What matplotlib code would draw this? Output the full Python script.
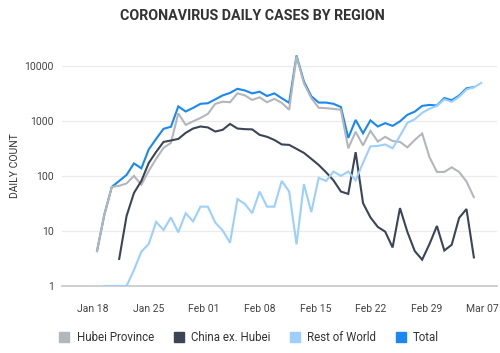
import matplotlib
matplotlib.use("Agg")
import matplotlib.pyplot as plt
from matplotlib.lines import Line2D
from matplotlib.ticker import FixedLocator, NullLocator
import numpy as np

plt.rcParams['font.family'] = ['Roboto', 'DejaVu Sans']

# ---- data (one value per reporting step) ----
hubei = [4.3, 20, 63, 66, 73, 100, 69, 123, 204, 323, 398, 1370, 846, 980, 1130, 1340,
         2040, 2230, 2180, 3160, 2910, 2400, 2680, 2180, 2510, 2130, 1590, 14900, 4800,
         2600, 1730, 1700, 1650, 1590, 317, 633, 358, 660, 420, 513, 430, 415, 330, 450,
         590, 218, 118, 118, 143, 118, 79, 41]
china_ex_hubei = [None, None, None, 3.1, 18.7, 49, 81, 172, 273, 414, 440, 470, 605, 726,
                  790, 760, 640, 687, 880, 726, 707, 700, 557, 514, 450, 373, 366, 310,
                  262, 204, 158, 116, 83, 52, 47, 270, 32, 17.6, 11.8, 9.7, 5.0, 26, 9.6,
                  4.3, 3.0, 5.8, 12.3, 4.4, 5.6, 17.2, 25, 3.3]
rest_of_world = [None, 1, 1, 1, 1, 1.95, 4.2, 5.8, 14.6, 10.4, 17.6, 9.4, 21, 14.9, 27.6,
                 27.6, 14.2, 10.2, 6.1, 38, 31, 21, 52, 27.6, 27.6, 81, 52, 5.7, 71, 22,
                 92, 81, 120, 100, 120, 83, 173, 344, 350, 373, 317, 535, 920, 1070, 1400,
                 1660, 1870, 2460, 2220, 2740, 3720, 4060, 4900]
total = [4.3, 20, 63, 81, 104, 169, 137, 303, 470, 718, 780, 1830, 1480, 1720, 2040, 2090,
         2460, 2900, 3220, 3830, 3570, 3160, 3390, 2830, 3160, 2580, 2130, 15400, 5200,
         2800, 2150, 2150, 2040, 1790, 490, 1040, 595, 1020, 790, 910, 810, 980, 1290,
         1470, 1870, 1950, 1900, 2600, 2370, 2880, 3900, 4110]
x_labels = ["Jan 18", "Jan 25", "Feb 01", "Feb 08", "Feb 15", "Feb 22", "Feb 29", "Mar 07"]
y_ticks = [1, 10, 100, 1000, 10000]
series_names = ["Hubei Province", "China ex. Hubei", "Rest of World", "Total"]

colors = {"Hubei Province": "#b3b6bb", "China ex. Hubei": "#3b4555",
          "Rest of World": "#9ccfff", "Total": "#1a88f0"}


def to_arr(v):
    return np.array([np.nan if a is None else a for a in v], dtype=float)


fig = plt.figure(figsize=(5.0, 3.53), dpi=100)
ax = fig.add_axes([0.124, 0.19, 0.870, 0.6827])

data = {"Total": total, "Hubei Province": hubei,
        "China ex. Hubei": china_ex_hubei, "Rest of World": rest_of_world}
z = {"Total": 2, "Hubei Province": 3, "China ex. Hubei": 4, "Rest of World": 5}
for name, vals in data.items():
    arr = to_arr(vals)
    ax.plot(np.arange(len(arr)), arr, color=colors[name], lw=1.5, zorder=z[name],
            solid_joinstyle='miter')

ax.set_yscale('log')
ax.set_ylim(1, 10 ** 4.38)
ax.set_xlim(-4.74, 54.13)

ax.yaxis.set_major_locator(FixedLocator(y_ticks))
ax.yaxis.set_minor_locator(NullLocator())
ax.set_yticklabels([str(t) for t in y_ticks])

first_tick, tick_spacing = -0.54, 7.524
ax.set_xticks(first_tick + np.arange(len(x_labels)) * tick_spacing)
ax.set_xticklabels(x_labels)

ax.tick_params(axis='both', length=0, labelsize=7.5, colors='#444444')
ax.tick_params(axis='x', pad=13)
ax.tick_params(axis='y', pad=6)
ax.grid(axis='y', color='#ebebeb', lw=0.9)
ax.set_axisbelow(True)
for s in ['top', 'right', 'left']:
    ax.spines[s].set_visible(False)
ax.spines['bottom'].set_color('#c8c8c8')
ax.spines['bottom'].set_linewidth(1.2)

ax.set_ylabel("DAILY COUNT", fontsize=7.5, color='#333333', labelpad=3)

fig.text(0.504, 0.975, "CORONAVIRUS DAILY CASES BY REGION", ha='center', va='top',
         fontsize=10.3, fontweight='bold', color='#333333')

handles = [Line2D([], [], ls='none', marker='s', markersize=7.5,
                  markerfacecolor=colors[n], markeredgecolor=colors[n]) for n in series_names]
fig.legend(handles, series_names, loc='lower center', bbox_to_anchor=(0.498, -0.005),
           ncol=4, frameon=False, fontsize=8.3, handlelength=0.9, handletextpad=0.6,
           columnspacing=1.7, labelcolor='#333333')

fig.savefig("out.png", dpi=100)
